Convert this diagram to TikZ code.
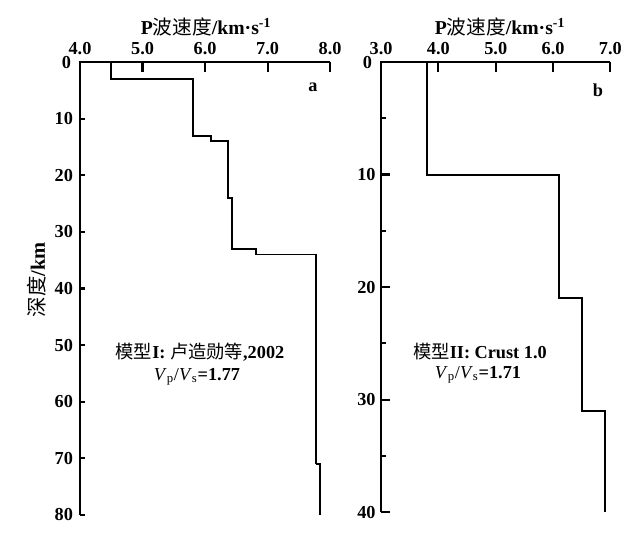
\documentclass[tikz,border=0pt]{standalone}
\usepackage{fontspec}
\setmainfont{Liberation Serif}
\newfontfamily\cjk{Noto Sans CJK SC}
\tikzset{
  axis/.style={line width=1.5pt},
  profile/.style={line width=1.4pt},
  ticklabel/.style={font=\fontsize{13}{15}\selectfont\bfseries,inner sep=0pt},
  caption/.style={font=\fontsize{13}{15}\selectfont,align=center,inner sep=0pt}
}
\begin{document}
\begin{tikzpicture}[x=0.025cm,y=-0.025cm]
	\useasboundingbox(0,0)rectangle(640,533);
	% panel a
	\begin{scope}[xshift=-4.25cm,yshift=-1.55cm,x=1.5625cm,y=-0.1415cm]
	\draw[axis](8,0)--(4,0)--(4,80);
	\foreach \v in {5,6,7,8} \draw[axis](\v,0)--++(0,-0.25cm);
	\foreach \d in {10,20,...,80} \draw[axis](4,\d)--++(0.13cm,0);
	\foreach \v in {4,5,6,7,8} \node[ticklabel](ta\v) at(\v,0)[above=0.17cm]{\v.0};
	\foreach \d in {10,20,...,80} \node[ticklabel,anchor=east](la\d) at(4,\d)[xshift=-0.17cm]{\d};
	\node[ticklabel,anchor=east](la0) at(4,0.1)[xshift=-0.22cm]{0};
	\draw[profile](4.5,0)--(4.5,3)--(5.8,3)--(5.8,13)--(6.1,13)--(6.1,14)--(6.36,14)--(6.36,24)--(6.43,24)--(6.43,33)--(6.82,33)--(6.82,34)--(7.77,34)--(7.77,71);
	\draw[line width=1pt](7.77,71)--(7.84,71)--(7.84,80);
	\end{scope}
	% panel b
	\begin{scope}[xshift=5.2275cm,yshift=-1.55cm,x=1.4325cm,y=-0.28125cm]
	\draw[axis](7,0)--(3,0)--(3,40);
	\foreach \v in {4,5,6,7} \draw[axis](\v,0)--++(0,-0.25cm);
	\foreach \d in {10,20,30,40} \draw[axis](3,\d)--++(0.23cm,0);
	\foreach \d in {5,15,25,35} \draw[axis](3,\d)--++(0.13cm,0);
	\foreach \v in {3,4,5,6,7} \node[ticklabel](tb\v) at(\v,0)[above=0.17cm]{\v.0};
	\foreach \d in {10,20,30,40} \node[ticklabel,anchor=east](lb\d) at(3,\d)[xshift=-0.13cm]{\d};
	\node[ticklabel,anchor=east](lb0) at(3,0.05)[xshift=-0.22cm]{0};
	\draw[profile](3.8,0)--(3.8,10)--(6.1,10)--(6.1,21)--(6.5,21)--(6.5,31)--(6.9,31)--(6.9,40);
	\end{scope}
	% titles and labels
	\node[font=\fontsize{14}{16}\selectfont](titleA) at(206,27){\textbf{P}{\cjk 波速度}\textbf{/km·s}\textsuperscript{\textbf{-1}}};
	\node[font=\fontsize{14}{16}\selectfont](titleB) at(500,27){\textbf{P}{\cjk 波速度}\textbf{/km·s}\textsuperscript{\textbf{-1}}};
	\node[font=\fontsize{14.5}{16}\selectfont,rotate=90](depth) at(37,280){{\cjk 深度}\textbf{/km}};
	\node[ticklabel](markA) at(313,87){a};
	\node[ticklabel](markB) at(598,90){b};
	\node[caption](modelA) at(200,352){{\cjk 模型}\textbf{I: }{\cjk 卢造勋等}\textbf{,2002}};
	\node[caption](ratioA) at(197,377){\textit{V}\textsubscript{p}/\textit{V}\textsubscript{s}\textbf{=1.77}};
	\node[caption](modelB) at(480,352){{\cjk 模型}\textbf{II: Crust 1.0}};
	\node[caption](ratioB) at(478,375){\textit{V}\textsubscript{p}/\textit{V}\textsubscript{s}\textbf{=1.71}};
\end{tikzpicture}
\end{document}
